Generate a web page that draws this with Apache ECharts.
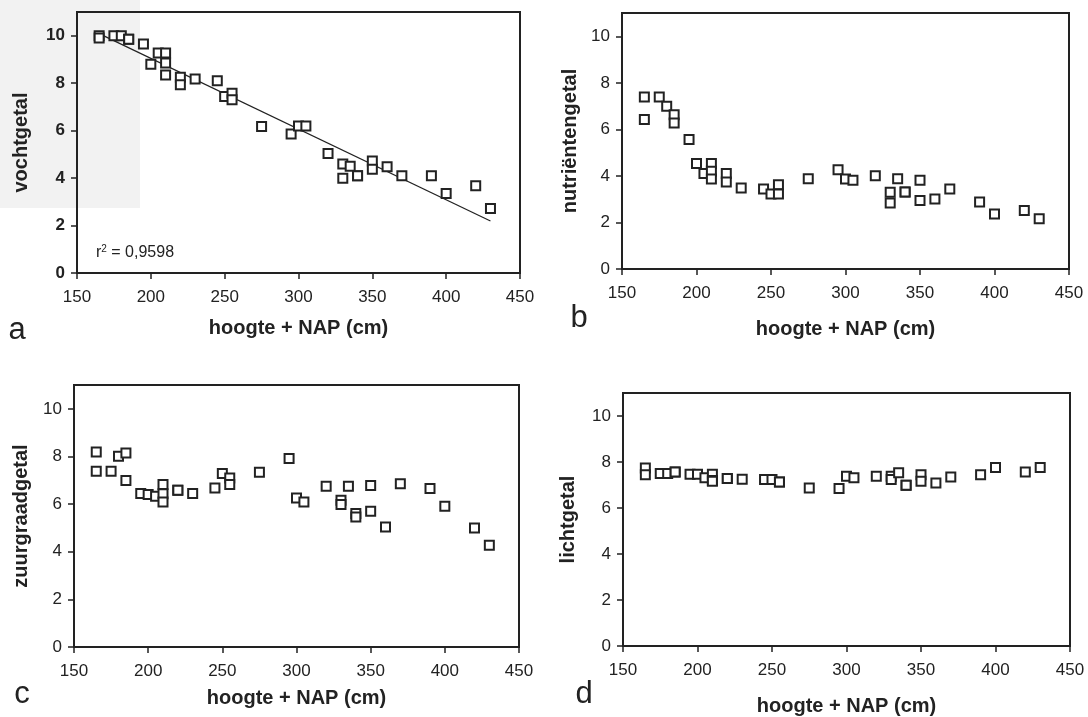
<!DOCTYPE html>
<html>
<head>
<meta charset="utf-8">
<script src="https://cdn.jsdelivr.net/npm/echarts@6/dist/echarts.min.js"></script>
<style>
html,body{margin:0;padding:0;background:#fff;}
#chart{width:1088px;height:717px;}
</style>
</head>
<body>
<div id="chart"></div>
<script>
// sample heights (cm + NAP), shared by all four panels
var heights = [165,165,175,180,185,185,195,200,205,210,210,210,220,220,230,245,250,255,255,275,295,300,305,320,330,330,335,340,340,350,350,360,370,390,400,420,430];
// a: vochtgetal
var vochtgetal = [10.0,9.9,10.0,10.0,9.85,9.85,9.65,8.8,9.27,9.27,8.85,8.35,8.25,7.93,8.18,8.1,7.44,7.58,7.3,6.17,5.86,6.2,6.2,5.04,4.59,3.99,4.5,4.1,4.1,4.72,4.37,4.48,4.1,4.1,3.35,3.68,2.72];
// b: nutriëntengetal
var nutrientengetal = [7.39,6.42,7.39,6.99,6.63,6.27,5.56,4.53,4.1,4.53,4.2,3.87,4.1,3.74,3.48,3.44,3.22,3.62,3.22,3.88,4.27,3.87,3.81,4.01,3.3,2.84,3.88,3.31,3.31,3.81,2.94,3.01,3.44,2.88,2.36,2.51,2.16];
// c: zuurgraadgetal
var zuurgraadgetal = [8.19,7.38,7.38,8.01,8.15,6.99,6.44,6.4,6.33,6.82,6.43,6.09,6.58,6.58,6.44,6.68,7.28,7.1,6.82,7.34,7.91,6.26,6.09,6.75,6.16,5.98,6.75,5.6,5.46,6.78,5.7,5.04,6.85,6.65,5.91,5.0,4.27];
// d: lichtgetal
var lichtgetal = [7.74,7.45,7.5,7.5,7.56,7.56,7.47,7.47,7.32,7.47,7.2,7.16,7.28,7.28,7.25,7.24,7.24,7.13,7.13,6.87,6.85,7.38,7.32,7.38,7.38,7.24,7.53,6.99,6.99,7.45,7.16,7.09,7.35,7.45,7.76,7.57,7.76];
// regression line in panel a (end points)
var trendX = [165, 430];
var trendY = [10.09, 2.19];
var yTicks = [0, 2, 4, 6, 8, 10];
var xName = 'hoogte + NAP (cm)';
var yNames = ['vochtgetal', 'nutriëntengetal', 'zuurgraadgetal', 'lichtgetal'];
var panelLetters = ['a', 'b', 'c', 'd'];
var rText = '0,9598';

var FONT = '"Liberation Sans", Arial, sans-serif';
var INK = '#222';

function pairs(xs, ys) { return xs.map(function (x, i) { return [x, ys[i]]; }); }

var grids = [
  {left: 77, top: 12, width: 443, height: 261},
  {left: 622, top: 13, width: 447, height: 256},
  {left: 74, top: 385, width: 445, height: 262},
  {left: 623, top: 393, width: 447, height: 253}
];
var xGaps = [45, 50, 41, 50];
var yGaps = [46, 42, 43, 45];
var yBold = [true, false, false, false];

var option = {
  animation: false,
  backgroundColor: '#fff',
  grid: grids.map(function (g) {
    return {left: g.left, top: g.top, width: g.width, height: g.height,
      show: true, borderColor: INK, borderWidth: 2, backgroundColor: 'transparent'};
  }),
  xAxis: grids.map(function (g, i) {
    return {
      type: 'value', gridIndex: i, min: 150, max: 450, interval: 50,
      name: xName, nameLocation: 'middle', nameGap: xGaps[i],
      nameTextStyle: {fontFamily: FONT, fontSize: 20, fontWeight: 'bold', color: INK},
      axisLine: {show: true, onZero: false, lineStyle: {color: INK, width: 2}},
      axisTick: {show: true, inside: false, length: 6, lineStyle: {color: INK, width: 1.5}},
      axisLabel: {fontFamily: FONT, fontSize: 17, color: INK, margin: 16},
      splitLine: {show: false}
    };
  }),
  yAxis: grids.map(function (g, i) {
    return {
      type: 'value', gridIndex: i, min: 0, max: 11, interval: 2,
      name: yNames[i], nameLocation: 'middle', nameGap: yGaps[i],
      nameTextStyle: {fontFamily: FONT, fontSize: 20, fontWeight: 'bold', color: INK},
      axisLine: {show: true, onZero: false, lineStyle: {color: INK, width: 2}},
      axisTick: {show: true, inside: false, length: 6, lineStyle: {color: INK, width: 1.5}, customValues: yTicks},
      axisLabel: {fontFamily: FONT, fontSize: 17, color: INK, margin: 12,
        fontWeight: yBold[i] ? 'bold' : 'normal', customValues: yTicks,
        formatter: function (v) { return v > 10 ? '' : String(v); }},
      splitLine: {show: false}
    };
  }),
  series: [],
  graphic: []
};

var sets = [vochtgetal, nutrientengetal, zuurgraadgetal, lichtgetal];
option.series.push({
  type: 'line', xAxisIndex: 0, yAxisIndex: 0, data: pairs(trendX, trendY),
  symbol: 'none', lineStyle: {color: INK, width: 1.2}, z: 1, silent: true
});
sets.forEach(function (vals, i) {
  option.series.push({
    type: 'scatter', xAxisIndex: i, yAxisIndex: i, data: pairs(heights, vals),
    symbol: 'rect', symbolSize: 9, z: 3,
    itemStyle: {color: '#fff', borderColor: INK, borderWidth: 2, opacity: 1}
  });
});

// scan shading in the top-left corner
option.graphic.push({type: 'rect', shape: {x: 0, y: 0, width: 140, height: 208}, style: {fill: '#f2f2f2'}, z: -10, silent: true});

var letterPos = [[17, 330], [579, 318], [22, 694], [584, 694]];
panelLetters.forEach(function (L, i) {
  option.graphic.push({type: 'text', x: letterPos[i][0], y: letterPos[i][1], z: 10,
    style: {text: L, fontFamily: FONT, fontSize: 31, fill: INK, align: 'center', verticalAlign: 'middle'}});
});
option.graphic.push({type: 'text', x: 96, y: 253, z: 10,
  style: {text: '{r|r}{s|2}{t| = ' + rText + '}', verticalAlign: 'middle', align: 'left',
    rich: {r: {fontFamily: FONT, fontSize: 16, fill: INK, color: INK},
           s: {fontFamily: FONT, fontSize: 10, fill: INK, color: INK, verticalAlign: 'top', padding: [0, 0, 8, 0]},
           t: {fontFamily: FONT, fontSize: 16, fill: INK, color: INK}}}});

var chart = echarts.init(document.getElementById('chart'), null, {renderer: 'canvas'});
chart.setOption(option);
</script>
</body>
</html>
